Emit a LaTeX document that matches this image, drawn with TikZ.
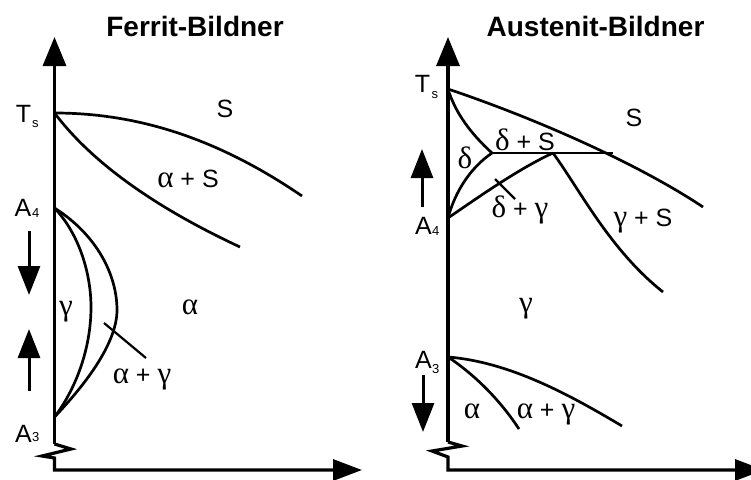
\documentclass[tikz,border=0pt]{standalone}
\usepackage{fontspec}
\setmainfont{Liberation Sans}
\newfontfamily\gr{Liberation Serif}
\newcommand\grl[1]{{\fontsize{31}{31}\selectfont\gr #1}}
\usetikzlibrary{arrows.meta}
\tikzset{
  lab/.style={font=\fontsize{25}{25}\selectfont, inner sep=0pt, anchor=base},
  sub/.style={font=\fontsize{13}{13}\selectfont, inner sep=0pt, anchor=base west},
  grk/.style={font=\fontsize{25}{25}\selectfont, inner sep=0pt, anchor=base},
  ttl/.style={font=\fontsize{28}{28}\selectfont\bfseries, inner sep=0pt, anchor=base},
  ln/.style={line width=2.7pt},
  thin/.style={line width=2.2pt},
  ax/.style={line width=3.2pt, -{Triangle[width=23pt,length=29pt]}},
  sarr/.style={line width=3pt, -{Triangle[width=22pt,length=29pt]}}
}
\begin{document}
\begin{tikzpicture}[x=1pt,y=-1pt]
\useasboundingbox (0,0) rectangle (751,479);
% ---------- left panel ----------
\node[ttl] (t1) at (195,36.5) {Ferrit-Bildner};
\coordinate (LTs) at (54.5,113);
\coordinate (LA4) at (54.5,208);
\coordinate (LA3) at (54.5,417);
\coordinate (LO) at (54.5,470);
\coordinate (LZ) at (54.5,444);
\coordinate (LTop) at (54.5,37);
\coordinate (LX) at (362,470);
\draw[ax] (LZ) -- (LTop);
\draw[ax, -{Triangle[width=21pt,length=29pt]}] (LZ) -- (71,449) -- (42,456) -- (54.5,458) -- (LO) -- (LX);
% liquidus / solidus
\draw[ln] (LTs) .. controls (140,113) and (220,140) .. (302,196);
\draw[ln] (LTs) .. controls (90,160) and (150,205) .. (240,247);
% gamma loop
\draw[ln] (LA4) .. controls (80,235) and (91,275) .. (91,307) .. controls (91,350) and (75,390) .. (LA3);
\draw[ln] (LA4) .. controls (97,235) and (117,275) .. (117,310) .. controls (117,345) and (82,388) .. (LA3);
\draw[thin] (104,323) -- (146,358);
% labels
\node[lab] (lts) at (23.5,122) {T};
\node[sub] (ltss) at (32,127) {s};
\node[lab] (la4) at (23,216) {A};
\node[sub] (la4s) at (32,217) {4};
\node[lab] (la3) at (23.5,442) {A};
\node[sub] (la3s) at (32,441) {3};
\node[lab] (ls) at (225,117) {S};
\node[grk] (las) at (188,187) {\grl{α} + S};
\node[grk] (lg) at (66,315) {\grl{γ}};
\node[grk] (la) at (190,314) {\grl{α}};
\node[grk] (lag) at (142,383) {\grl{α} + \grl{γ}};
% arrows
\coordinate (ld1) at (29,231);
\coordinate (ld2) at (29,295);
\coordinate (lu1) at (29,391);
\coordinate (lu2) at (29,329);
\draw[sarr] (ld1) -- (ld2);
\draw[sarr] (lu1) -- (lu2);
% ---------- right panel ----------
\node[ttl] (t2) at (595.5,36.5) {Austenit-Bildner};
\coordinate (RTs) at (448,89);
\coordinate (RA4) at (448,218);
\coordinate (RA3) at (448,357);
\coordinate (RZ) at (448,442);
\coordinate (RTop) at (448,37);
\coordinate (RO) at (448,470);
\coordinate (RX) at (764,470);
\coordinate (P1) at (492,153);
\coordinate (P2) at (553,153);
\coordinate (P3) at (613,153);
\draw[ax] (RZ) -- (RTop);
\draw[ax, -{Triangle[width=21pt,length=29pt]}] (RZ) -- (462,446) -- (432,451) -- (448,457) -- (RO) -- (RX);
\draw[ln] (RTs) .. controls (540,120) and (640,165) .. (703,207);
\draw[ln] (P1) -- (P3);
\draw[ln] (RTs) .. controls (455,112) and (470,133) .. (P1);
\draw[ln] (RA4) .. controls (455,192) and (470,168) .. (P1);
\draw[ln] (RA4) .. controls (480,196) and (520,168) .. (P2);
\draw[ln] (P2) .. controls (580,190) and (610,250) .. (663,292);
\draw[ln] (RA3) .. controls (510,362) and (570,395) .. (622,426);
\draw[ln] (RA3) .. controls (475,375) and (500,400) .. (519,429);
\draw[thin] (495,179) -- (515,199);
% labels
\node[lab] (rts) at (422.5,92) {T};
\node[sub] (rtss) at (431.5,98) {s};
\node[lab] (ra4) at (423.5,234) {A};
\node[sub] (ra4s) at (432,235) {4};
\node[lab] (ra3) at (423.5,368) {A};
\node[sub] (ra3s) at (432,373) {3};
\node[lab] (rs) at (634,126) {S};
\node[grk] (rds) at (525,150) {\grl{δ} + S};
\node[grk] (rd) at (465,168) {\grl{δ}};
\node[grk] (rdg) at (520,217) {\grl{δ} + \grl{γ}};
\node[grk] (rgs) at (643,226) {\grl{γ} + S};
\node[grk] (rg) at (526,312) {\grl{γ}};
\node[grk] (ra) at (472,418) {\grl{α}};
\node[grk] (rag) at (546,418) {\grl{α} + \grl{γ}};
\coordinate (ru1) at (422,207);
\coordinate (ru2) at (422,149);
\coordinate (rd1) at (423,375);
\coordinate (rd2) at (423,432);
\draw[sarr] (ru1) -- (ru2);
\draw[sarr] (rd1) -- (rd2);
\end{tikzpicture}
\end{document}
